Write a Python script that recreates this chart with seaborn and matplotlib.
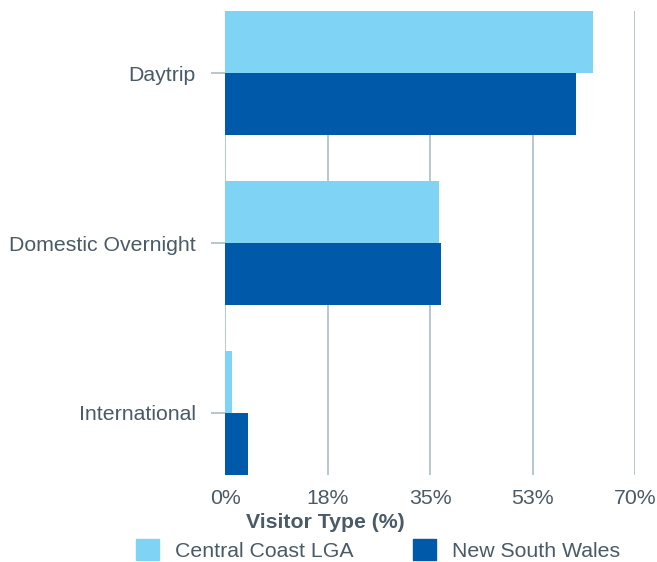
import matplotlib
matplotlib.use('Agg')
import matplotlib.pyplot as plt
import seaborn as sns
import pandas as pd

categories = ['Daytrip', 'Domestic Overnight', 'International']
regions = ['Central Coast LGA', 'New South Wales']
central_coast = [62.9, 36.6, 1.2]
nsw = [60.0, 36.8, 3.9]
xticks = [0, 17.5, 35, 52.5, 70]
xtick_labels = ['0%', '18%', '35%', '53%', '70%']

light_blue = '#7fd4f6'
deep_blue = '#0059a9'
grid_col = '#a9bfc3'
text_col = '#4a5a66'

df = pd.DataFrame({
    'type': categories * 2,
    'region': [regions[0]] * 3 + [regions[1]] * 3,
    'pct': central_coast + nsw,
})

sns.set_style('white')
plt.rcParams['font.family'] = ['Liberation Sans', 'DejaVu Sans']

fig = plt.figure(figsize=(6.57, 5.62), dpi=100)
ax = fig.add_axes([0.3425, 0.1548, 0.6241, 0.8256])

sns.barplot(data=df, y='type', x='pct', hue='region', order=categories,
            hue_order=regions, palette=[light_blue, deep_blue], saturation=1,
            width=0.73, orient='h', ax=ax, legend=False, linewidth=0)

ax.set_xlim(0, 70)
ax.set_ylim(2.365, -0.365)
ax.set_xticks(xticks)
ax.set_xticklabels(xtick_labels)
ax.xaxis.grid(True, color=grid_col, linewidth=1.2)
ax.set_axisbelow(True)
for s in ax.spines.values():
    s.set_visible(False)

ax.tick_params(axis='x', length=0, pad=10, labelsize=15.3, labelcolor=text_col)
ax.tick_params(axis='y', length=10, width=1.2, color=grid_col, pad=11,
               labelsize=15.3, labelcolor=text_col, left=True)
ax.set_ylabel('')
ax.set_xlabel('')
fig.text(325 / 657, 1 - 522 / 562, 'Visitor Type (%)', fontsize=15.3,
         fontweight='bold', color=text_col, ha='center', va='center')

handles = [plt.Rectangle((0, 0), 1, 1, color=c) for c in [light_blue, deep_blue]]
fig.legend(handles, regions, loc='center', bbox_to_anchor=(378 / 657, 1 - 550 / 562),
           ncol=2, frameon=False, fontsize=15.3, handlelength=1.1,
           handleheight=1.1, handletextpad=0.75, columnspacing=2.8,
           labelcolor=text_col)

plt.savefig('out.png', dpi=100)
